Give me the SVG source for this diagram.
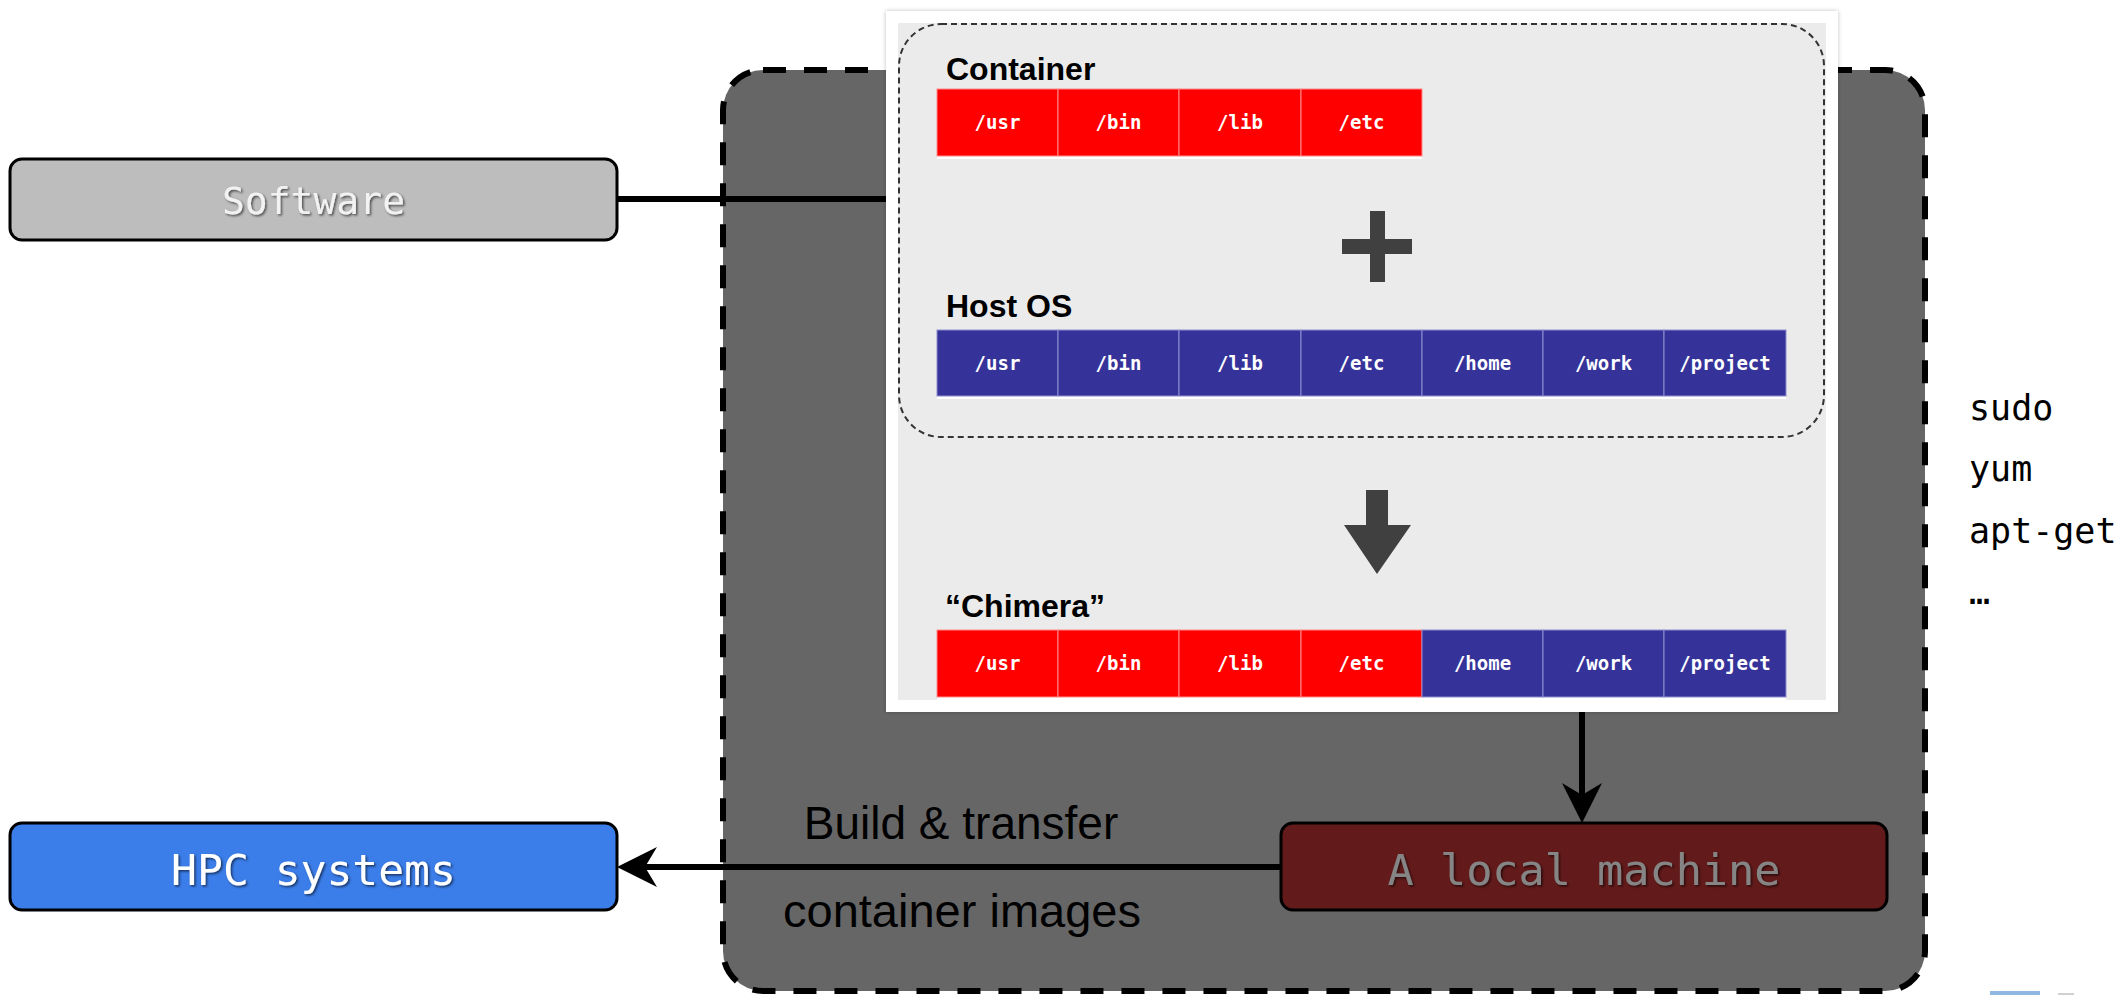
<svg xmlns="http://www.w3.org/2000/svg" width="2119" height="995" viewBox="0 0 2119 995">
<style>
  .mono { font-family: "DejaVu Sans Mono", "Liberation Mono", monospace; }
  .sans { font-family: "Liberation Sans", Arial, sans-serif; }
  .cell { font-family: "DejaVu Sans Mono", "Liberation Mono", monospace; font-size: 19px; font-weight: bold; fill: #ffffff; text-anchor: middle; }
  .red { fill: #ff0000; stroke: #ff8a8a; stroke-width: 1; }
  .blue { fill: #35339a; stroke: #8f8ecf; stroke-width: 1; }
  .title { font-family: "Liberation Sans", Arial, sans-serif; font-size: 32px; font-weight: bold; fill: #000; }
  .conn { stroke: #000; stroke-width: 6; fill: none; }
  .nodebox { stroke: #000; stroke-width: 3; }
  .side { font-family: "DejaVu Sans Mono", "Liberation Mono", monospace; font-size: 35px; fill: #000; }
</style>
<defs>
  <marker id="arr" markerUnits="userSpaceOnUse" markerWidth="42" markerHeight="42" viewBox="0 0 42 42" refX="12" refY="21" orient="auto">
    <path d="M0,1 L40,21 L0,41 L12,21 Z" fill="#000"/>
  </marker>
  <filter id="shadow" x="-5%" y="-20%" width="110%" height="140%">
    <feDropShadow dx="1.5" dy="1.5" stdDeviation="1" flood-color="#000" flood-opacity="0.6"/>
  </filter>
  <filter id="panelshadow" x="-2%" y="-2%" width="104%" height="104%">
    <feDropShadow dx="0" dy="0" stdDeviation="2" flood-color="#000" flood-opacity="0.25"/>
  </filter>
</defs>
<rect width="2119" height="995" fill="#ffffff"/>

<g id="build-area">
  <rect x="723" y="70" width="1202" height="921" rx="40" ry="40" fill="#666666" stroke="#000" stroke-width="6" stroke-dasharray="23 18"/>
  <text class="sans" x="961" y="839" font-size="46" text-anchor="middle" fill="#000">Build &amp; transfer</text>
  <text class="sans" x="962" y="927" font-size="47" text-anchor="middle" fill="#000">container images</text>
</g>

<g id="connectors">
  <line class="conn" x1="617" y1="199" x2="886" y2="199"/>
  <line class="conn" x1="1582" y1="712" x2="1582" y2="795" marker-end="url(#arr)"/>
  <line class="conn" x1="1281" y1="867" x2="645" y2="867" marker-end="url(#arr)"/>
</g>

<g id="chimera-panel">
  <rect x="886" y="11" width="952" height="701" fill="#ffffff" filter="url(#panelshadow)"/>
  <rect x="898" y="23" width="928" height="677" fill="#ebebeb"/>
  <rect x="899" y="24" width="925" height="413" rx="42" ry="42" fill="none" stroke="#333" stroke-width="2" stroke-dasharray="6 4"/>

  <text class="title" x="946" y="80">Container</text>
  <g id="container-row">
    <rect x="937" y="156" width="485" height="3" fill="#ffffff"/>
    <rect class="red" x="937" y="89" width="121" height="67"/>
    <rect class="red" x="1058" y="89" width="121" height="67"/>
    <rect class="red" x="1179" y="89" width="122" height="67"/>
    <rect class="red" x="1301" y="89" width="121" height="67"/>
    <text class="cell" x="997.5" y="129">/usr</text>
    <text class="cell" x="1118.5" y="129">/bin</text>
    <text class="cell" x="1240" y="129">/lib</text>
    <text class="cell" x="1361.5" y="129">/etc</text>
  </g>

  <path d="M1370,211 H1385 V239 H1412 V254 H1385 V282 H1370 V254 H1342 V239 H1370 Z" fill="#404040"/>

  <text class="title" x="946" y="317">Host OS</text>
  <g id="host-row">
    <rect x="937" y="396" width="849" height="3" fill="#ffffff"/>
    <rect class="blue" x="937" y="330" width="121" height="66"/>
    <rect class="blue" x="1058" y="330" width="121" height="66"/>
    <rect class="blue" x="1179" y="330" width="122" height="66"/>
    <rect class="blue" x="1301" y="330" width="121" height="66"/>
    <rect class="blue" x="1422" y="330" width="121" height="66"/>
    <rect class="blue" x="1543" y="330" width="121" height="66"/>
    <rect class="blue" x="1664" y="330" width="122" height="66"/>
    <text class="cell" x="997.5" y="370">/usr</text>
    <text class="cell" x="1118.5" y="370">/bin</text>
    <text class="cell" x="1240" y="370">/lib</text>
    <text class="cell" x="1361.5" y="370">/etc</text>
    <text class="cell" x="1482.5" y="370">/home</text>
    <text class="cell" x="1603.5" y="370">/work</text>
    <text class="cell" x="1725" y="370">/project</text>
  </g>

  <path d="M1366,490 H1388 V525 H1411 L1377,574 L1344,525 H1366 Z" fill="#404040"/>

  <text class="title" x="945" y="617">“Chimera”</text>
  <g id="chimera-row">
    <rect x="937" y="697" width="849" height="3" fill="#ffffff"/>
    <rect class="red" x="937" y="630" width="121" height="67"/>
    <rect class="red" x="1058" y="630" width="121" height="67"/>
    <rect class="red" x="1179" y="630" width="122" height="67"/>
    <rect class="red" x="1301" y="630" width="121" height="67"/>
    <rect class="blue" x="1422" y="630" width="121" height="67"/>
    <rect class="blue" x="1543" y="630" width="121" height="67"/>
    <rect class="blue" x="1664" y="630" width="122" height="67"/>
    <text class="cell" x="997.5" y="670">/usr</text>
    <text class="cell" x="1118.5" y="670">/bin</text>
    <text class="cell" x="1240" y="670">/lib</text>
    <text class="cell" x="1361.5" y="670">/etc</text>
    <text class="cell" x="1482.5" y="670">/home</text>
    <text class="cell" x="1603.5" y="670">/work</text>
    <text class="cell" x="1725" y="670">/project</text>
  </g>
</g>

<g id="software">
  <rect class="nodebox" x="10" y="159" width="607" height="81" rx="12" ry="12" fill="#bdbdbd"/>
  <text class="mono" x="313.5" y="214" font-size="38" text-anchor="middle" fill="#f2f2f2" filter="url(#shadow)">Software</text>
</g>

<g id="hpc">
  <rect class="nodebox" x="10" y="823" width="607" height="87" rx="12" ry="12" fill="#3b7de9"/>
  <text class="mono" x="313.5" y="885" font-size="43" text-anchor="middle" fill="#ffffff" filter="url(#shadow)">HPC systems</text>
</g>

<g id="local-machine">
  <rect class="nodebox" x="1281" y="823" width="606" height="87" rx="12" ry="12" fill="#631a1a"/>
  <text class="mono" x="1584" y="885" font-size="43.5" text-anchor="middle" fill="#858585" filter="url(#shadow)">A local machine</text>
</g>

<g id="privileged-commands">
  <text class="side" x="1969" y="420">sudo</text>
  <text class="side" x="1969" y="481">yum</text>
  <text class="side" x="1969" y="543">apt-get</text>
  <text class="side" x="1969" y="604">…</text>
</g>

<g id="corner-logo">
  <rect x="1990" y="991" width="50" height="4" fill="#8fb8e0"/>
  <rect x="2058" y="993" width="16" height="2" fill="#d0d0d0"/>
</g>
</svg>
